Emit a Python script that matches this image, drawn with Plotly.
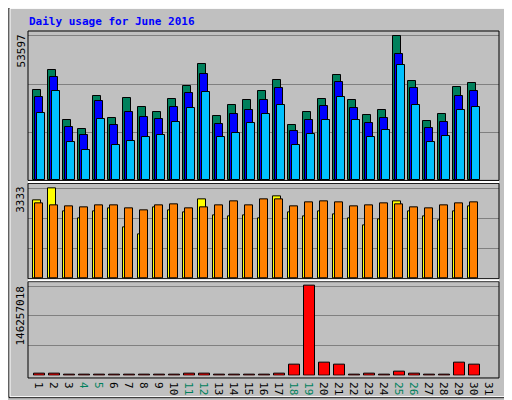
import plotly.graph_objects as go

days = list(range(1, 31))
weekend = [4, 5, 11, 12, 18, 19, 25, 26]

hits = [33589, 40865, 22312, 19038, 31407, 23039, 30679, 27405, 25222, 30315,
        35044, 43047, 23767, 28132, 29951, 33225, 37227, 20493, 25222, 30315,
        39046, 29951, 24131, 25950, 53597, 36863, 21948, 24494, 34680, 36135]
files = [31043, 38439, 19765, 16855, 29587, 20493, 25222, 23403, 22676, 27405,
         32498, 39410, 20857, 24494, 25950, 29951, 34317, 18310, 22312, 27769,
         36499, 26677, 21221, 23039, 47049, 34317, 19402, 21584, 31407, 33225]
pages = [24858, 33225, 14309, 11398, 22676, 13217, 14672, 16128, 16855, 21584,
         27041, 32861, 16128, 17583, 21221, 24494, 28132, 13217, 17219, 22312,
         31043, 22312, 16128, 18674, 42684, 28132, 14309, 16491, 25950, 27405]
visits = [2899, 3333, 2464, 2210, 2500, 2609, 1884, 1630, 2645, 2536,
          2428, 2935, 2319, 2283, 2319, 2210, 3043, 2428, 2283, 2464,
          2355, 2210, 1957, 2174, 2862, 2464, 2283, 2138, 2464, 2681]
sites = [2790, 2718, 2681, 2645, 2718, 2718, 2609, 2536, 2718, 2754,
         2609, 2645, 2718, 2862, 2718, 2935, 2935, 2681, 2826, 2862,
         2826, 2681, 2718, 2790, 2754, 2645, 2609, 2718, 2790, 2826]
kbytes = [3750000, 3750000, 1607000, 1607000, 1607000, 1607000, 1607000, 1607000, 1607000, 1607000,
          3750000, 3750000, 1607000, 1607000, 1607000, 1607000, 3750000, 18215000, 146257018, 21430000,
          18215000, 1607000, 3750000, 1607000, 6965000, 3750000, 1607000, 1607000, 21430000, 18215000]

PX = 15.0  # pixels per day
W = 7.4 / PX
line = dict(color="black", width=1)

fig = go.Figure()

def add(vals, off, width, color, axis):
    fig.add_trace(go.Bar(x=[d + off for d in days], y=vals, width=width,
                         marker=dict(color=color, line=line), yaxis=axis,
                         showlegend=False, hoverinfo="y"))

add(hits, W / 2, W, "#00805C", "y")
add(files, W / 2 + 2 / PX, W, "#0000FF", "y")
add(pages, W / 2 + 4 / PX, W, "#00C0FF", "y")
add(visits, W / 2, W, "#FFFF00", "y2")
add(sites, W / 2 + 2 / PX, W, "#FF8000", "y2")
add(kbytes, (1 + 5.2) / PX, 10.3 / PX, "#FF0000", "y3")

def px_x(p):
    return (p - 20) / 471

def px_y(p):
    return (377 - p) / 352

ticktext = [f"<span style='color:#00805C'>{d}</span>" if d in weekend else str(d) for d in range(1, 32)]
grid = dict(showgrid=True, gridcolor="#808080", gridwidth=1, showticklabels=False,
            zeroline=False, ticks="")

fig.update_layout(
    width=512, height=400,
    margin=dict(l=20, r=21, t=23, b=23),
    paper_bgcolor="#C0C0C0", plot_bgcolor="#C0C0C0",
    barmode="overlay", bargap=0,
    font=dict(family="DejaVu Sans Mono", size=10, color="black"),
    xaxis=dict(anchor="y3", range=[(20 - 25.3) / PX + 1, (491 - 25.3) / PX + 1],
               tickvals=[d + 0.51 for d in range(1, 32)], ticktext=ticktext,
               showgrid=False, zeroline=False, ticks="", showline=False,
               tickfont=dict(family="DejaVu Sans Mono", size=11)),
    yaxis=dict(domain=[px_y(177), px_y(25)], range=[0, 53597 * 152 / 147],
               dtick=53597 / 3, **grid),
    yaxis2=dict(domain=[px_y(277), px_y(180)], range=[0, 3333 * 97 / 92],
                dtick=3333 / 3, **grid),
    yaxis3=dict(domain=[px_y(375.5), px_y(280)], range=[0, 146257018 * 95.5 / 91],
                dtick=146257018 / 3, **grid),
)

shapes = [
    dict(type="rect", xref="paper", yref="paper", x0=px_x(1), x1=px_x(510), y0=px_y(398), y1=px_y(1),
         line=dict(color="black", width=1), layer="below"),
    dict(type="rect", xref="paper", yref="paper", x0=px_x(2), x1=px_x(509), y0=px_y(397), y1=px_y(2),
         line=dict(color="white", width=1), layer="below"),
]
for top, bot in [(25, 177), (180, 277), (280, 378)]:
    shapes.append(dict(type="rect", xref="paper", yref="paper", x0=0, x1=1,
                       y0=px_y(bot), y1=px_y(top), line=dict(color="black", width=1)))
for yy in [178.5, 278.5]:
    shapes.append(dict(type="line", xref="paper", yref="paper", x0=0, x1=1,
                       y0=px_y(yy), y1=px_y(yy), line=dict(color="white", width=2)))
fig.update_layout(shapes=shapes)

def vlabel(text, xp, yp, anchor="top", xanchor="center"):
    fig.add_annotation(text=text, x=px_x(xp), y=px_y(yp), xref="paper", yref="paper",
                       textangle=-90, showarrow=False, yanchor=anchor, xanchor=xanchor,
                       font=dict(family="DejaVu Sans Mono", size=11))

fig.add_annotation(text="<b>Daily usage for June 2016</b>", x=px_x(19), y=px_y(15),
                   xref="paper", yref="paper", showarrow=False, xanchor="left", yanchor="middle",
                   font=dict(family="DejaVu Sans Mono", size=11, color="#0000FF"))
vlabel("53597", 13, 27)
vlabel("3333", 13, 181)
vlabel("146257018", 13, 282)
vlabel("<span style='color:#00C0FF'>Pages</span> / <span style='color:#0000FF'>Files</span> / "
       "<span style='color:#00805C'>Hits</span>", 493, 27, xanchor="left")
vlabel("<span style='color:#FF8000'>Sites</span> / <span style='color:#FFFF00'>Visits</span>", 493, 182,
       xanchor="left")
vlabel("<span style='color:#FF0000'>KBytes</span>", 493, 372, anchor="bottom", xanchor="left")

fig.write_html("out.html")
